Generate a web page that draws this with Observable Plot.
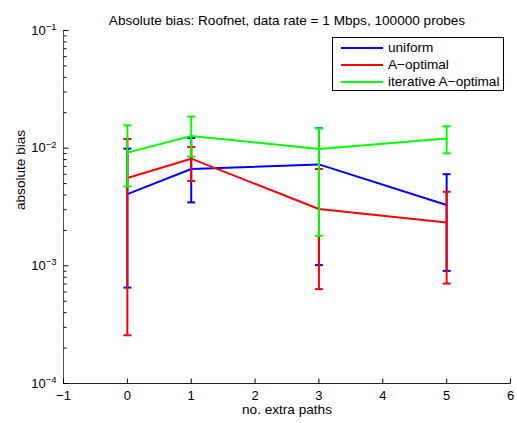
<!DOCTYPE html>
<html><head><meta charset="utf-8">
<script src="https://cdn.jsdelivr.net/npm/d3@7"></script>
<script src="https://cdn.jsdelivr.net/npm/@observablehq/plot@0.6"></script>
<style>
body{margin:0;background:#fff;font-family:"Liberation Sans",Arial,sans-serif;}
#wrap{position:relative;width:517px;height:423px;}
#legend{position:absolute;left:332px;top:37px;width:172px;height:54px;border:1px solid #000;background:#fff;font-size:13.6px;box-sizing:border-box;}
#legend .row{position:absolute;left:0;height:17px;width:100%;}
#legend .sw{position:absolute;left:8px;top:8px;width:42px;height:2px;}
#legend .lb{position:absolute;left:55px;top:0px;line-height:17px;white-space:nowrap;}
</style></head><body><div id="wrap"></div>
<script>
const titleText = "Absolute bias: Roofnet, data rate = 1 Mbps, 100000 probes";
const xLabel = "no. extra paths";
const yLabel = "absolute bias";
const xValues = [0, 1, 3, 5];
const xDomain = [-1, 6];
const xTicks = [-1, 0, 1, 2, 3, 4, 5, 6];
const yDomain = [1e-4, 1e-1];
const yTicks = [1e-4, 1e-3, 1e-2, 1e-1];
const yTickLabels = ["10^-4", "10^-3", "10^-2", "10^-1"];
const seriesNames = ["uniform", "A\u2212optimal", "iterative A\u2212optimal"];
const seriesColors = ["#0000ff", "#ff0000", "#00ff00"];

const uniformMean = [0.00407, 0.00665, 0.00728, 0.00329];
const uniformLow  = [0.000653, 0.00346, 0.001014, 0.000906];
const uniformHigh = [0.00991, 0.01221, 0.0148, 0.00601];
const aoptMean = [0.00558, 0.00814, 0.00304, 0.00234];
const aoptLow  = [0.000257, 0.00526, 0.000634, 0.000707];
const aoptHigh = [0.01197, 0.01023, 0.00665, 0.00426];
const iterMean = [0.00916, 0.0127, 0.00984, 0.0121];
const iterLow  = [0.00473, 0.00847, 0.0018, 0.00903];
const iterHigh = [0.01563, 0.01854, 0.01475, 0.01534];

const seriesData = [
  [uniformMean, uniformLow, uniformHigh],
  [aoptMean, aoptLow, aoptHigh],
  [iterMean, iterLow, iterHigh]
];

const minorTicks = [];
for (let e = -4; e < -1; e++) for (let k = 2; k <= 9; k++) minorTicks.push(k * Math.pow(10, e));

const capSymbol = {draw(ctx) { ctx.moveTo(-4, 0); ctx.lineTo(4, 0); }};
const rightTick = (len) => ({draw(ctx) { ctx.moveTo(0, 0); ctx.lineTo(len, 0); }});
const upTick = {draw(ctx) { ctx.moveTo(0, 0); ctx.lineTo(0, -5); }};
const yLabelFor = d => yTickLabels[yTicks.findIndex(t => Math.abs(Math.log10(t) - Math.log10(d)) < 1e-6)];

const marks = [
  Plot.ruleX([xDomain[0]], {stroke: "#555", strokeWidth: 1}),
  Plot.ruleY([yDomain[0]], {stroke: "#222", strokeWidth: 1}),
  Plot.dot(minorTicks, {y: d => d, frameAnchor: "left", symbol: rightTick(3), stroke: "#000", fill: "none", strokeWidth: 1}),
  Plot.dot(yTicks, {y: d => d, frameAnchor: "left", symbol: rightTick(5), stroke: "#000", fill: "none", strokeWidth: 1}),
  Plot.dot(xTicks, {x: d => d, frameAnchor: "bottom", symbol: upTick, stroke: "#000", fill: "none", strokeWidth: 1}),
  Plot.axisX({ticks: xTicks, tickSize: 0, tickPadding: 7, fontSize: 13, label: null, tickFormat: d => d < 0 ? "\u2212" + (-d) : String(d)}),
  Plot.axisY({ticks: yTicks, tickSize: 0, tickPadding: 7, fontSize: 13, label: null, tickFormat: yLabelFor}),
];

seriesData.forEach(([m, lo, hi], s) => {
  const rows = xValues.map((x, i) => ({x, m: m[i], lo: lo[i], hi: hi[i]}));
  const c = seriesColors[s];
  marks.push(
    Plot.ruleX(rows, {x: "x", y1: "lo", y2: "hi", stroke: c, strokeWidth: 2}),
    Plot.dot(rows, {x: "x", y: "lo", symbol: capSymbol, stroke: c, fill: "none", strokeWidth: 2}),
    Plot.dot(rows, {x: "x", y: "hi", symbol: capSymbol, stroke: c, fill: "none", strokeWidth: 2}),
    Plot.line(rows, {x: "x", y: "m", stroke: c, strokeWidth: 2})
  );
});

marks.push(
  Plot.text([titleText], {text: d => d, frameAnchor: "top", dy: -15, fontSize: 13.6}),
  Plot.text([xLabel], {text: d => d, frameAnchor: "bottom", dy: 30, fontSize: 13.6}),
  Plot.text([yLabel], {text: d => d, frameAnchor: "left", dx: -43, dy: 3, rotate: -90, fontSize: 13.6})
);

const chart = Plot.plot({
  width: 517, height: 423,
  marginLeft: 63, marginRight: 7, marginTop: 30, marginBottom: 40,
  style: {fontFamily: "'Liberation Sans', Arial, sans-serif", color: "#000", background: "#fff"},
  x: {domain: xDomain, label: null},
  y: {type: "log", domain: yDomain, label: null},
  marks
});

d3.select(chart).selectAll('g[aria-label="y-axis tick label"] text').each(function() {
  const t = d3.select(this);
  const parts = t.text().split("^");
  if (parts.length === 2) {
    t.text(parts[0]);
    t.append("tspan").attr("dy", "-0.5em").attr("font-size", "9.5px").text(parts[1].replace("-", "\u2212"));
  }
});

const wrap = document.getElementById("wrap");
wrap.appendChild(chart);
const legend = document.createElement("div");
legend.id = "legend";
seriesNames.forEach((name, i) => {
  const row = document.createElement("div");
  row.className = "row";
  row.style.top = (1 + i * 17) + "px";
  row.innerHTML = `<div class="sw" style="background:${seriesColors[i]}"></div><div class="lb">${name}</div>`;
  legend.appendChild(row);
});
wrap.appendChild(legend);
</script></body></html>
